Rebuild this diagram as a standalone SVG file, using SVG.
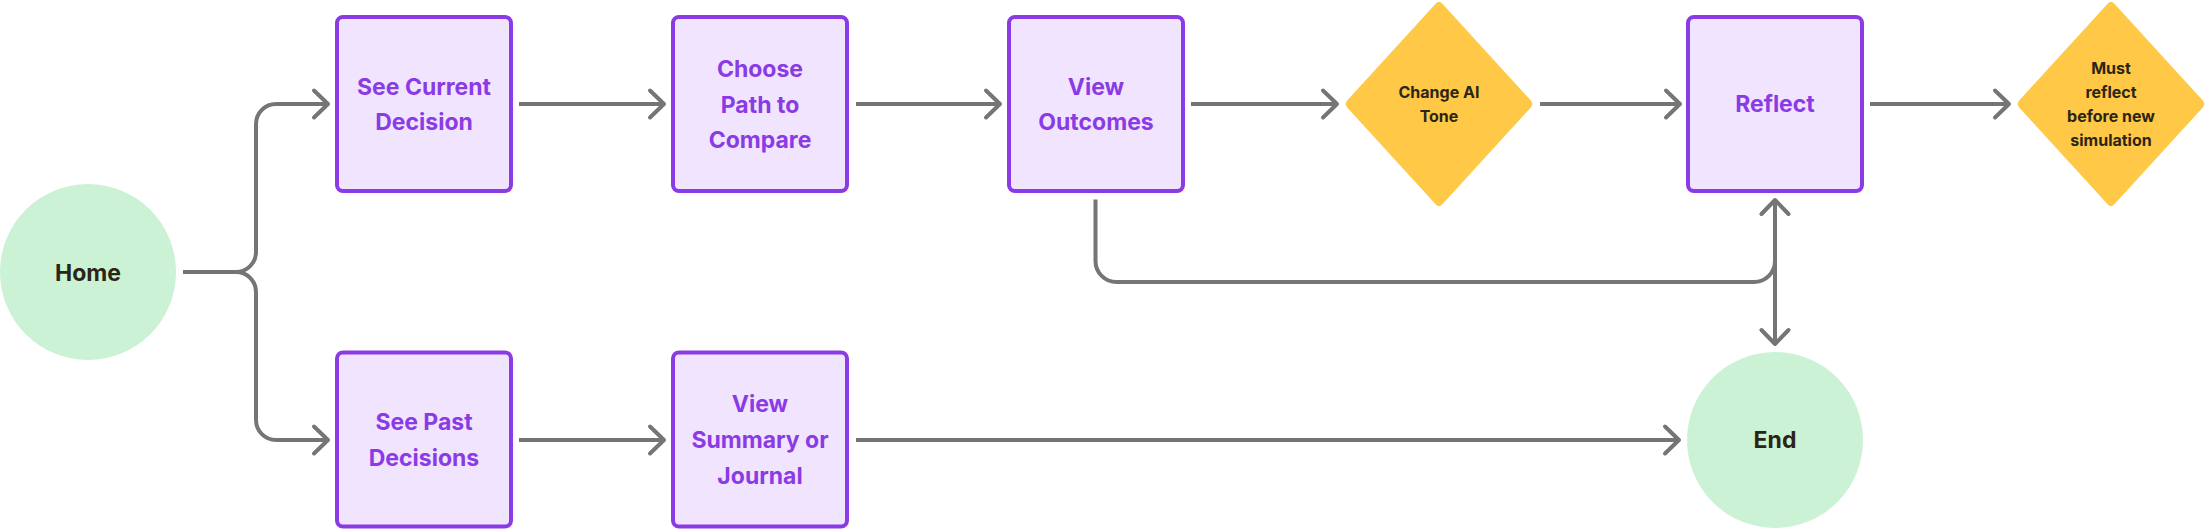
<svg xmlns="http://www.w3.org/2000/svg" width="2206" height="530" viewBox="0 0 2206 530">
<defs>
<style>
.box{fill:#F1E4FF;stroke:#8A3BE5;stroke-width:4}
.term{fill:#CCF2D5}
.dec{fill:#FFC847}
.t{font-family:Inter,"Noto Sans",sans-serif;font-weight:700;font-size:23px;text-anchor:middle;fill:#8A3BE5}
.tk{font-family:Inter,"Noto Sans",sans-serif;font-weight:700;font-size:23px;text-anchor:middle;fill:#2B2516}
.ts{font-family:Inter,"Noto Sans",sans-serif;font-weight:700;font-size:16px;text-anchor:middle;fill:#2B2516}
.c{fill:none;stroke:#757575;stroke-width:4}
</style>
<marker id="ah" viewBox="-20 -20 40 40" markerWidth="40" markerHeight="40" markerUnits="userSpaceOnUse" refX="0" refY="0" orient="auto-start-reverse">
<path d="M-14,-13.5 L0,0 L-14,13.5" fill="none" stroke="#757575" stroke-width="4" stroke-linecap="round" stroke-linejoin="round"/>
</marker>
</defs>
<rect width="2206" height="530" fill="#FFFFFF"/>
<g id="connectors">
<path class="c" d="M183,272 H236 A20,20 0 0 0 256,252 V124 A20,20 0 0 1 276,104 H328" marker-end="url(#ah)"/>
<path class="c" d="M236,272 A20,20 0 0 1 256,292 V420 A20,20 0 0 0 276,440 H328" marker-end="url(#ah)"/>
<path class="c" d="M519,104 H664" marker-end="url(#ah)"/>
<path class="c" d="M856,104 H1000" marker-end="url(#ah)"/>
<path class="c" d="M1191,104 H1337" marker-end="url(#ah)"/>
<path class="c" d="M1540,104 H1680" marker-end="url(#ah)"/>
<path class="c" d="M1870,104 H2009" marker-end="url(#ah)"/>
<path class="c" d="M519,440 H664" marker-end="url(#ah)"/>
<path class="c" d="M856,440 H1679" marker-end="url(#ah)"/>
<path class="c" d="M1095.5,199.5 V261 A21,21 0 0 0 1116.5,282 H1754 A21,21 0 0 0 1775,261"/>
<path class="c" d="M1775,200 V344" marker-start="url(#ah)" marker-end="url(#ah)"/>
</g>
<g id="home">
<circle class="term" cx="88" cy="272" r="88"/>
<text class="tk" x="88" y="280.5">Home</text>
</g>
<g id="see-current">
<rect class="box" x="337" y="17" width="174" height="174" rx="6"/>
<text class="t" x="424" y="94.7">See Current</text>
<text class="t" x="424" y="130.2">Decision</text>
</g>
<g id="choose-path">
<rect class="box" x="673" y="17" width="174" height="174" rx="6"/>
<text class="t" x="760" y="77">Choose</text>
<text class="t" x="760" y="112.5">Path to</text>
<text class="t" x="760" y="148">Compare</text>
</g>
<g id="view-outcomes">
<rect class="box" x="1009" y="17" width="174" height="174" rx="6"/>
<text class="t" x="1096" y="94.7">View</text>
<text class="t" x="1096" y="130.2">Outcomes</text>
</g>
<g id="change-tone">
<path class="dec" d="M1442.4,3.7 L1530.6,100.3 Q1534,104 1530.6,107.7 L1442.4,204.3 Q1439,208 1435.6,204.3 L1347.4,107.7 Q1344,104 1347.4,100.3 L1435.6,3.7 Q1439,0 1442.4,3.7 Z"/>
<text class="ts" x="1439" y="98">Change AI</text>
<text class="ts" x="1439" y="122">Tone</text>
</g>
<g id="reflect">
<rect class="box" x="1688" y="17" width="174" height="174" rx="6"/>
<text class="t" x="1775" y="112.4">Reflect</text>
</g>
<g id="must-reflect">
<path class="dec" d="M2114.4,3.7 L2202.6,100.3 Q2206,104 2202.6,107.7 L2114.4,204.3 Q2111,208 2107.6,204.3 L2019.4,107.7 Q2016,104 2019.4,100.3 L2107.6,3.7 Q2111,0 2114.4,3.7 Z"/>
<text class="ts" x="2111" y="74">Must</text>
<text class="ts" x="2111" y="98">reflect</text>
<text class="ts" x="2111" y="122">before new</text>
<text class="ts" x="2111" y="146">simulation</text>
</g>
<g id="see-past">
<rect class="box" x="337" y="352.5" width="174" height="174" rx="6"/>
<text class="t" x="424" y="430.2">See Past</text>
<text class="t" x="424" y="465.8">Decisions</text>
</g>
<g id="view-summary">
<rect class="box" x="673" y="352.5" width="174" height="174" rx="6"/>
<text class="t" x="760" y="412.4">View</text>
<text class="t" x="760" y="448">Summary or</text>
<text class="t" x="760" y="483.5">Journal</text>
</g>
<g id="end">
<circle class="term" cx="1775" cy="440" r="88"/>
<text class="tk" x="1775" y="448.4">End</text>
</g>
</svg>
